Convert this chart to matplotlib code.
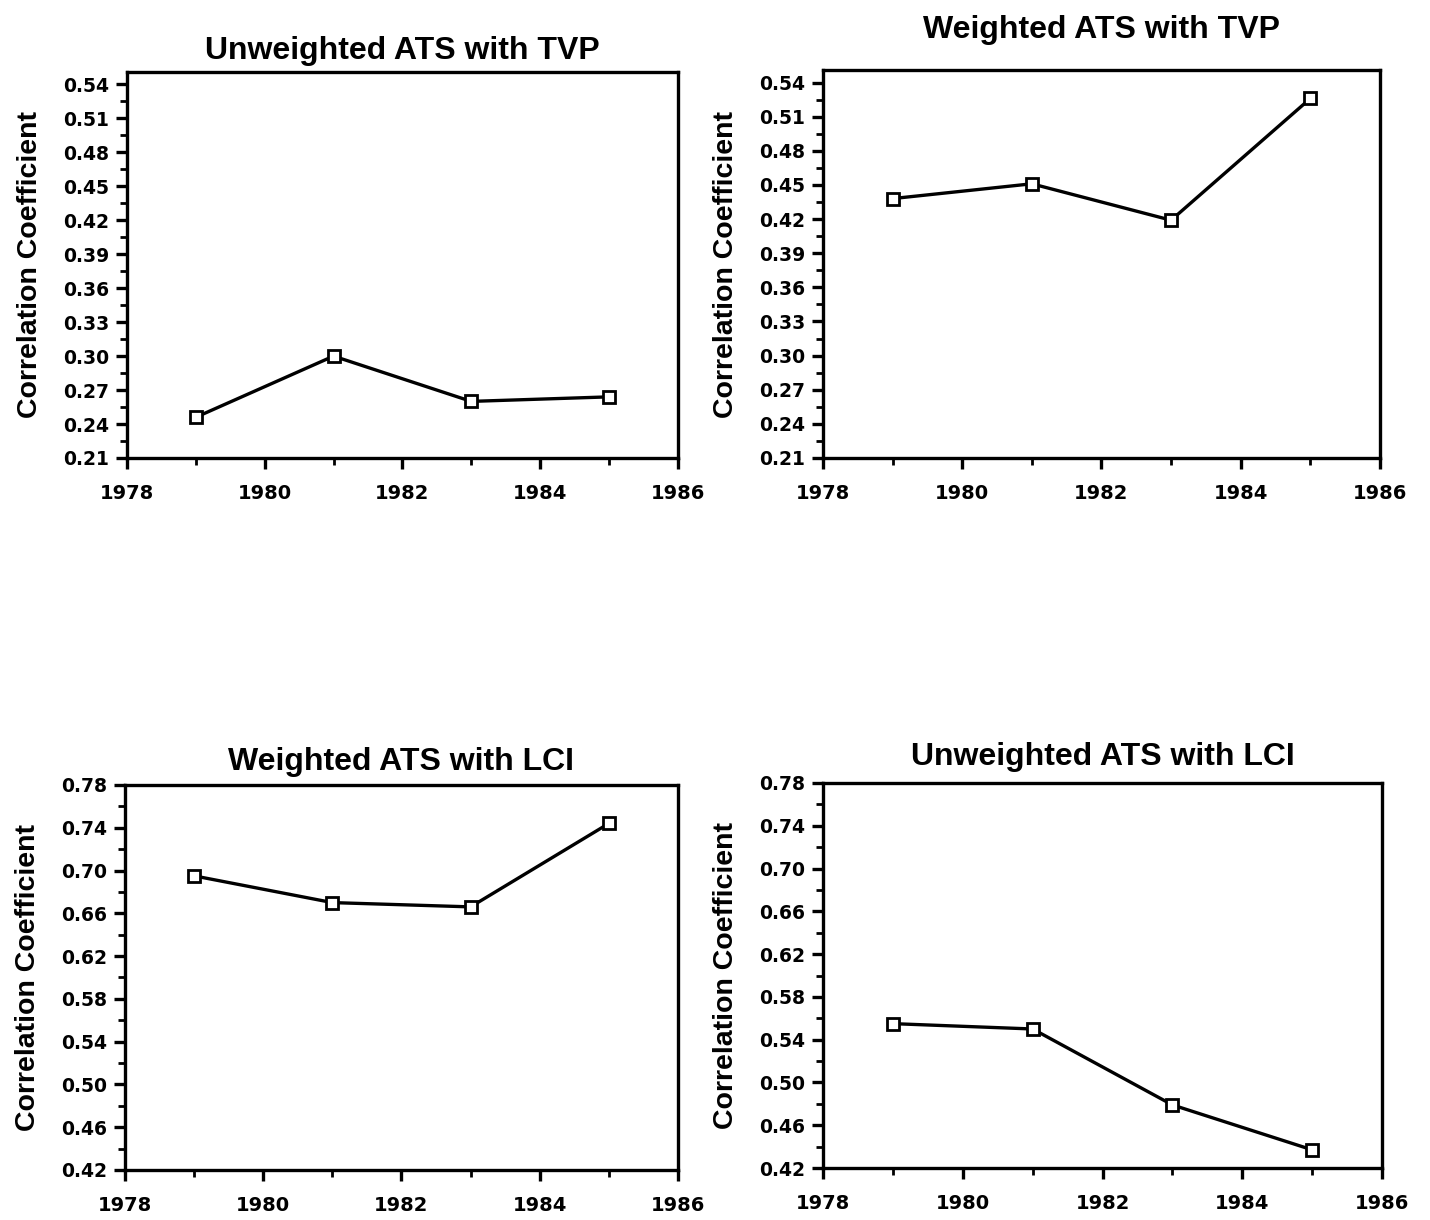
import matplotlib
matplotlib.use("Agg")
import matplotlib.pyplot as plt
from matplotlib.ticker import MultipleLocator, FormatStrFormatter

years = [1979, 1981, 1983, 1985]

unweighted_tvp = [0.246, 0.300, 0.260, 0.264]
weighted_tvp = [0.438, 0.451, 0.419, 0.526]
weighted_lci = [0.695, 0.670, 0.666, 0.744]
unweighted_lci = [0.555, 0.550, 0.479, 0.437]

titles = ["Unweighted ATS with TVP", "Weighted ATS with TVP",
          "Weighted ATS with LCI", "Unweighted ATS with LCI"]
series = [unweighted_tvp, weighted_tvp, weighted_lci, unweighted_lci]

# axes boxes [left, bottom, width, height] in figure fractions
boxes = [
    [0.0888, 0.6246, 0.3852, 0.3164],
    [0.5755, 0.6246, 0.3895, 0.3180],
    [0.0874, 0.0410, 0.3867, 0.3156],
    [0.5755, 0.0426, 0.3910, 0.3156],
]
title_pads = [9, 23, 11, 13]
ylims = [(0.21, 0.551), (0.21, 0.551), (0.42, 0.78), (0.42, 0.78)]
ysteps = [0.03, 0.03, 0.04, 0.04]
yoffsets = [0.0, 0.0, 0.02, 0.02]

fig = plt.figure(figsize=[14.3, 12.2], dpi=100)

for i in range(4):
    ax = fig.add_axes(boxes[i])
    ax.plot(years, series[i], color="black", linewidth=2.4, marker="s",
            markersize=8, markerfacecolor="white", markeredgecolor="black",
            markeredgewidth=2.0, clip_on=False)
    ax.set_xlim(1978, 1986)
    ax.set_ylim(*ylims[i])
    ax.xaxis.set_major_locator(MultipleLocator(2))
    ax.xaxis.set_minor_locator(MultipleLocator(1))
    ax.yaxis.set_major_locator(MultipleLocator(ysteps[i], offset=yoffsets[i]))
    ax.yaxis.set_minor_locator(MultipleLocator(ysteps[i] / 2))
    ax.yaxis.set_major_formatter(FormatStrFormatter("%.2f"))
    for s in ax.spines.values():
        s.set_linewidth(2.4)
    ax.tick_params(which="major", direction="out", length=8, width=2.4)
    ax.tick_params(which="minor", direction="out", length=5, width=2.0)
    ax.tick_params(axis="y", which="major", pad=5)
    ax.tick_params(axis="x", which="major", pad=11)
    for lab in ax.get_yticklabels():
        lab.set_fontfamily("DejaVu Sans")
        lab.set_fontweight("bold")
        lab.set_fontsize(13.5)
    for lab in ax.get_xticklabels():
        lab.set_fontfamily("DejaVu Sans")
        lab.set_fontweight("bold")
        lab.set_fontsize(14)
    ax.set_ylabel("Correlation Coefficient", fontfamily="Liberation Sans",
                  fontweight="bold", fontsize=20.5, labelpad=14)
    ax.set_title(titles[i], fontfamily="Liberation Sans", fontweight="bold",
                 fontsize=23, pad=title_pads[i])

fig.savefig("out.png", dpi=100, facecolor="white")
